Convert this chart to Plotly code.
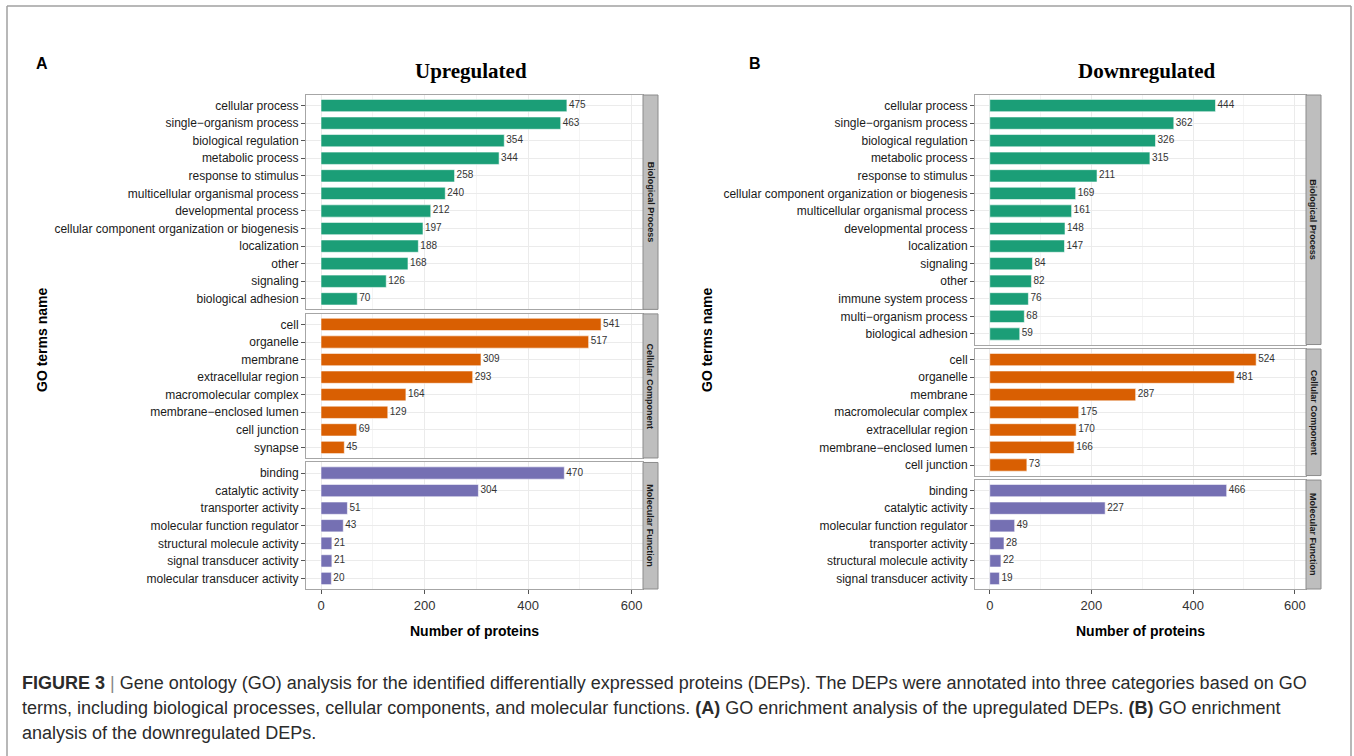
import plotly.graph_objects as go

# ---------------- data ----------------
up_bp_terms = ["cellular process", "single\u2212organism process", "biological regulation", "metabolic process",
               "response to stimulus", "multicellular organismal process", "developmental process",
               "cellular component organization or biogenesis", "localization", "other", "signaling",
               "biological adhesion"]
up_bp_vals = [475, 463, 354, 344, 258, 240, 212, 197, 188, 168, 126, 70]
up_cc_terms = ["cell", "organelle", "membrane", "extracellular region", "macromolecular complex",
               "membrane\u2212enclosed lumen", "cell junction", "synapse"]
up_cc_vals = [541, 517, 309, 293, 164, 129, 69, 45]
up_mf_terms = ["binding", "catalytic activity", "transporter activity", "molecular function regulator",
               "structural molecule activity", "signal transducer activity", "molecular transducer activity"]
up_mf_vals = [470, 304, 51, 43, 21, 21, 20]

down_bp_terms = ["cellular process", "single\u2212organism process", "biological regulation", "metabolic process",
                 "response to stimulus", "cellular component organization or biogenesis",
                 "multicellular organismal process", "developmental process", "localization", "signaling",
                 "other", "immune system process", "multi\u2212organism process", "biological adhesion"]
down_bp_vals = [444, 362, 326, 315, 211, 169, 161, 148, 147, 84, 82, 76, 68, 59]
down_cc_terms = ["cell", "organelle", "membrane", "macromolecular complex", "extracellular region",
                 "membrane\u2212enclosed lumen", "cell junction"]
down_cc_vals = [524, 481, 287, 175, 170, 166, 73]
down_mf_terms = ["binding", "catalytic activity", "molecular function regulator", "transporter activity",
                 "structural molecule activity", "signal transducer activity"]
down_mf_vals = [466, 227, 49, 28, 22, 19]

categories = ["Biological Process", "Cellular Component", "Molecular Function"]
cat_colors = ["#1B9E77", "#D95F02", "#7570B3"]
panel_titles = ["Upregulated", "Downregulated"]
panel_letters = ["A", "B"]
x_ticks = [0, 200, 400, 600]

panels = [
    [(up_bp_terms, up_bp_vals), (up_cc_terms, up_cc_vals), (up_mf_terms, up_mf_vals)],
    [(down_bp_terms, down_bp_vals), (down_cc_terms, down_cc_vals), (down_mf_terms, down_mf_vals)],
]

# ---------------- layout geometry (pixels) ----------------
W, H = 1354, 756
def px(x):
    return x / W
def py(y):
    return 1 - y / H

NARROW = "Liberation Sans Narrow, Arial Narrow, Liberation Sans, Arial, sans-serif"
SANS = "Liberation Sans, Arial, sans-serif"
SERIF = "Liberation Serif, Times New Roman, serif"

panel_x = [(306, 643), (975, 1306)]
strip_w = 15
top_px, bottom_px, gap_px = 95, 589, 4.5
x_range = [-29, 622]

fig = go.Figure()
layout_axes = {}
shapes = []
annotations = []

k = 0
for p, facets in enumerate(panels):
    x0p, x1p = panel_x[p]
    units = [len(t) + 0.2 for t, _ in facets]
    per_unit = (bottom_px - top_px - 2 * gap_px) / sum(units)
    ycur = top_px
    for f, (terms, vals) in enumerate(facets):
        k += 1
        h = units[f] * per_unit
        yt, yb = ycur, ycur + h
        ycur = yb + gap_px
        xa = "x" if k == 1 else f"x{k}"
        ya = "y" if k == 1 else f"y{k}"
        fig.add_trace(go.Bar(
            x=vals, y=terms, orientation="h", xaxis=xa, yaxis=ya,
            marker=dict(color=cat_colors[f], line=dict(color="rgba(255,255,255,0.7)", width=0.8)),
            width=0.7, showlegend=False, hoverinfo="x+y"))
        fig.add_trace(go.Scatter(
            x=vals, y=terms, mode="text", text=["\u2009" + str(v) for v in vals],
            textposition="middle right", xaxis=xa, yaxis=ya,
            textfont=dict(family=NARROW, size=10, color="#333333"),
            showlegend=False, hoverinfo="skip", cliponaxis=False))
        last = (f == 2)
        layout_axes["xaxis" if k == 1 else f"xaxis{k}"] = dict(
            domain=[px(x0p), px(x1p)], anchor=ya, range=x_range,
            tickvals=x_ticks, ticktext=[str(v) for v in x_ticks],
            showticklabels=last, ticks="outside" if last else "", ticklen=4, tickcolor="#555555",
            tickfont=dict(family=NARROW, size=13, color="#333333"),
            showgrid=True, gridcolor="#EBEBEB", gridwidth=1,
            minor=dict(dtick=100, tick0=0, showgrid=True, gridcolor="#F4F4F4", gridwidth=0.6),
            zeroline=False, showline=True, mirror=True, linecolor="#A6A6A6", linewidth=1)
        layout_axes["yaxis" if k == 1 else f"yaxis{k}"] = dict(
            domain=[py(yb), py(yt)], anchor=xa, type="category",
            categoryorder="array", categoryarray=terms,
            range=[len(terms) - 1 + 0.6, -0.6],
            ticks="outside", ticklen=4, tickcolor="#555555",
            tickfont=dict(family=NARROW, size=12, color="#1A1A1A"),
            showgrid=True, gridcolor="#EBEBEB", gridwidth=1,
            zeroline=False, showline=True, mirror=True, linecolor="#A6A6A6", linewidth=1)
        # strip
        shapes.append(dict(type="rect", xref="paper", yref="paper",
                           x0=px(x1p), x1=px(x1p + strip_w), y0=py(yb), y1=py(yt),
                           fillcolor="#BEBEBE", line=dict(color="#8C8C8C", width=1)))
        annotations.append(dict(xref="paper", yref="paper", x=px(x1p + strip_w / 2), y=py((yt + yb) / 2),
                                text=f"<b>{categories[f]}</b>", textangle=90, showarrow=False,
                                font=dict(family=SANS, size=9, color="#1A1A1A"),
                                xanchor="center", yanchor="middle"))
    cx = (x0p + x1p) / 2
    annotations.append(dict(xref="paper", yref="paper", x=px(cx - 4 if p == 0 else cx + 6), y=py(71),
                            text=f"<b>{panel_titles[p]}</b>", showarrow=False,
                            font=dict(family=SERIF, size=21, color="#000000"),
                            xanchor="center", yanchor="middle"))
    annotations.append(dict(xref="paper", yref="paper", x=px(cx), y=py(631),
                            text="<b>Number of proteins</b>", showarrow=False,
                            font=dict(family=SANS, size=14, color="#000000"),
                            xanchor="center", yanchor="middle"))
    annotations.append(dict(xref="paper", yref="paper", x=px([42, 707][p]), y=py(340),
                            text="<b>GO terms name</b>", textangle=-90, showarrow=False,
                            font=dict(family=SANS, size=14, color="#000000"),
                            xanchor="center", yanchor="middle"))
    annotations.append(dict(xref="paper", yref="paper", x=px([42, 755][p]), y=py(63),
                            text=f"<b>{panel_letters[p]}</b>", showarrow=False,
                            font=dict(family=SANS, size=16, color="#000000"),
                            xanchor="center", yanchor="middle"))

# caption
caption_lines = [
    "<b>FIGURE 3</b> <span style='color:#888888'>|</span> Gene ontology (GO) analysis for the identified differentially expressed proteins (DEPs). The DEPs were annotated into three categories based on GO",
    "terms, including biological processes, cellular components, and molecular functions. <b>(A)</b> GO enrichment analysis of the upregulated DEPs. <b>(B)</b> GO enrichment",
    "analysis of the downregulated DEPs.",
]
for i, line in enumerate(caption_lines):
    annotations.append(dict(xref="paper", yref="paper", x=px(20), y=py(683 + 25 * i),
                            text=line, showarrow=False, xanchor="left", yanchor="middle",
                            font=dict(family=SANS, size=18, color="#2B2B2B")))

# outer frame (no bottom edge)
frame = dict(color="#A0A0A0", width=1.5)
shapes.append(dict(type="line", xref="paper", yref="paper", x0=px(7), x1=px(7), y0=0, y1=py(6), line=frame))
shapes.append(dict(type="line", xref="paper", yref="paper", x0=px(7), x1=px(1351), y0=py(6), y1=py(6), line=frame))
shapes.append(dict(type="line", xref="paper", yref="paper", x0=px(1351), x1=px(1351), y0=0, y1=py(6), line=frame))

fig.update_layout(
    width=W, height=H, margin=dict(l=0, r=0, t=0, b=0),
    paper_bgcolor="white", plot_bgcolor="white",
    bargap=0.3, shapes=shapes, annotations=annotations, **layout_axes)

fig.write_html("out.html", config={"displayModeBar": False},
               post_script="document.body.style.margin='0px';document.body.style.overflow='hidden';")
